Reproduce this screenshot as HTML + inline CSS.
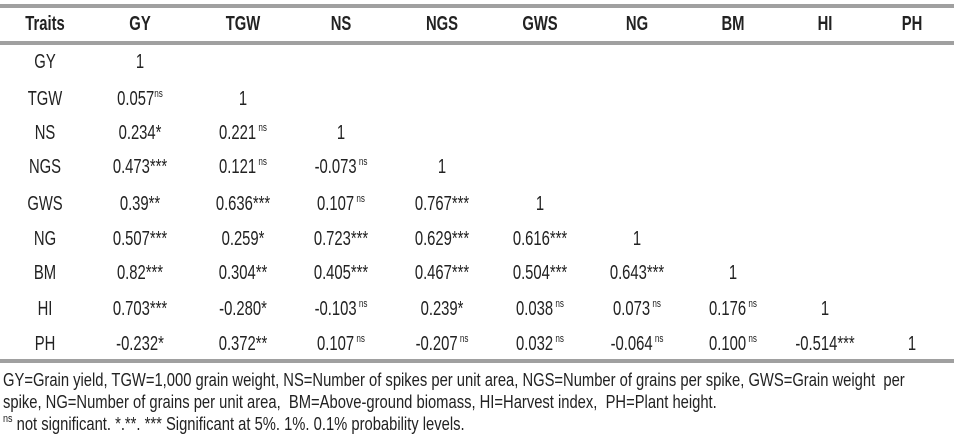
<!DOCTYPE html>
<html><head><meta charset="utf-8"><style>
body{margin:0;width:954px;height:435px;background:#fff;position:relative;overflow:hidden;font-family:"Liberation Sans",Arial,sans-serif;color:#222}
.l{position:absolute;left:0;width:954px;height:4px;background:#a0a0a0}
.c{position:absolute;white-space:nowrap;font-size:20px;transform:translate(-50%,-50%) scaleX(.74);line-height:1}
.h{font-weight:bold;font-size:20px}
sup{font-size:11px;vertical-align:8px}
.f{position:absolute;left:3px;white-space:nowrap;font-size:18px;transform-origin:0 0;transform:scaleX(.82);line-height:1}
</style></head><body>
<div class="l" style="top:4px"></div>
<div class="l" style="top:41px"></div>
<div class="l" style="top:359px"></div>

<div class="c h" style="left:45px;top:24px">Traits</div>
<div class="c h" style="left:140px;top:24px">GY</div>
<div class="c h" style="left:243px;top:24px">TGW</div>
<div class="c h" style="left:341px;top:24px">NS</div>
<div class="c h" style="left:442px;top:24px">NGS</div>
<div class="c h" style="left:540px;top:24px">GWS</div>
<div class="c h" style="left:637px;top:24px">NG</div>
<div class="c h" style="left:733px;top:24px">BM</div>
<div class="c h" style="left:825px;top:24px">HI</div>
<div class="c h" style="left:912px;top:24px">PH</div>

<div class="c" style="left:45px;top:62px">GY</div>
<div class="c" style="left:140px;top:62px">1</div>

<div class="c" style="left:45px;top:99px">TGW</div>
<div class="c" style="left:140px;top:99px">0.057<sup>ns</sup></div>
<div class="c" style="left:243px;top:99px">1</div>

<div class="c" style="left:45px;top:133px">NS</div>
<div class="c" style="left:140px;top:133px">0.234*</div>
<div class="c" style="left:243px;top:133px">0.221<sup> ns</sup></div>
<div class="c" style="left:341px;top:133px">1</div>

<div class="c" style="left:45px;top:167px">NGS</div>
<div class="c" style="left:140px;top:167px">0.473***</div>
<div class="c" style="left:243px;top:167px">0.121<sup> ns</sup></div>
<div class="c" style="left:341px;top:167px">-0.073<sup> ns</sup></div>
<div class="c" style="left:442px;top:167px">1</div>

<div class="c" style="left:45px;top:204px">GWS</div>
<div class="c" style="left:140px;top:204px">0.39**</div>
<div class="c" style="left:243px;top:204px">0.636***</div>
<div class="c" style="left:341px;top:204px">0.107<sup> ns</sup></div>
<div class="c" style="left:442px;top:204px">0.767***</div>
<div class="c" style="left:540px;top:204px">1</div>

<div class="c" style="left:45px;top:239px">NG</div>
<div class="c" style="left:140px;top:239px">0.507***</div>
<div class="c" style="left:243px;top:239px">0.259*</div>
<div class="c" style="left:341px;top:239px">0.723***</div>
<div class="c" style="left:442px;top:239px">0.629***</div>
<div class="c" style="left:540px;top:239px">0.616***</div>
<div class="c" style="left:637px;top:239px">1</div>

<div class="c" style="left:45px;top:273px">BM</div>
<div class="c" style="left:140px;top:273px">0.82***</div>
<div class="c" style="left:243px;top:273px">0.304**</div>
<div class="c" style="left:341px;top:273px">0.405***</div>
<div class="c" style="left:442px;top:273px">0.467***</div>
<div class="c" style="left:540px;top:273px">0.504***</div>
<div class="c" style="left:637px;top:273px">0.643***</div>
<div class="c" style="left:733px;top:273px">1</div>

<div class="c" style="left:45px;top:309px">HI</div>
<div class="c" style="left:140px;top:309px">0.703***</div>
<div class="c" style="left:243px;top:309px">-0.280*</div>
<div class="c" style="left:341px;top:309px">-0.103<sup> ns</sup></div>
<div class="c" style="left:442px;top:309px">0.239*</div>
<div class="c" style="left:540px;top:309px">0.038<sup> ns</sup></div>
<div class="c" style="left:637px;top:309px">0.073<sup> ns</sup></div>
<div class="c" style="left:733px;top:309px">0.176<sup> ns</sup></div>
<div class="c" style="left:825px;top:309px">1</div>

<div class="c" style="left:45px;top:344px">PH</div>
<div class="c" style="left:140px;top:344px">-0.232*</div>
<div class="c" style="left:243px;top:344px">0.372**</div>
<div class="c" style="left:341px;top:344px">0.107<sup> ns</sup></div>
<div class="c" style="left:442px;top:344px">-0.207<sup> ns</sup></div>
<div class="c" style="left:540px;top:344px">0.032<sup> ns</sup></div>
<div class="c" style="left:637px;top:344px">-0.064<sup> ns</sup></div>
<div class="c" style="left:733px;top:344px">0.100<sup> ns</sup></div>
<div class="c" style="left:825px;top:344px">-0.514***</div>
<div class="c" style="left:912px;top:344px">1</div>

<div class="f" style="top:371px">GY=Grain yield, TGW=1,000 grain weight, NS=Number of spikes per unit area, NGS=Number of grains per spike, GWS=Grain weight&nbsp; per</div>
<div class="f" style="top:393px">spike, NG=Number of grains per unit area,&nbsp; BM=Above-ground biomass, HI=Harvest index,&nbsp; PH=Plant height.</div>
<div class="f" style="top:414px"><sup>ns</sup> not significant. *.**. *** Significant at 5%. 1%. 0.1% probability levels.</div>
</body></html>
